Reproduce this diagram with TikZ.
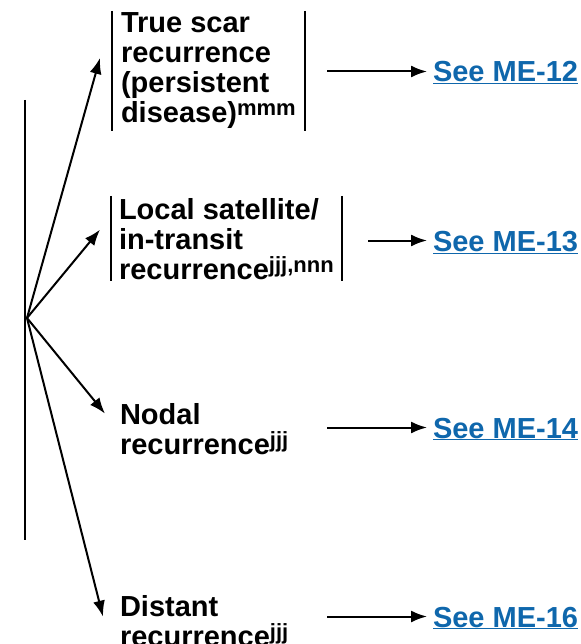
\documentclass[tikz,border=0pt]{standalone}
\usepackage{fontspec}
\setmainfont{Liberation Sans}
\usetikzlibrary{positioning, arrows.meta}
\definecolor{linkBlue}{HTML}{0F67AC}
\newcommand{\refmark}[1]{\raisebox{7pt}{\fontsize{22}{22}\selectfont #1}}
\tikzset{
  recbox/.style={align=left, anchor=north west, inner xsep=8pt, inner ysep=1pt},
  rectext/.style={align=left, anchor=north west, inner sep=0pt},
  link/.style={anchor=base west, inner sep=0pt, text=linkBlue, text height=21pt, text depth=0pt}
}

\begin{document}
\begin{tikzpicture}[x=1pt, y=-1pt, line width=2pt,
    font=\fontsize{29}{30}\selectfont\bfseries,
    >={Latex[length=16pt,width=12pt]}]
    \useasboundingbox (0,0) rectangle (580,644);
    \node[recbox] (scar) at (112,11) {True scar\\recurrence\\(persistent\\disease)\refmark{mmm}\hspace{4pt}};
    \node[recbox, inner xsep=7pt] (satellite) at (111,196) {Local satellite/\\in-transit\\recurrence\refmark{jjj,nnn}};
    \node[rectext] (nodal) at (119,402) {Nodal\\recurrence\refmark{jjj}};
    \node[rectext] (distant) at (119,594) {Distant\\recurrence\refmark{jjj}};

    \node[link] (me12) at (432,82) {\underline{See ME-12}};
    \node[link] (me13) at (432,251) {\underline{See ME-13}};
    \node[link] (me14) at (432,438) {\underline{See ME-14}};
    \node[link] (me16) at (432,627) {\underline{See ME-16}};

    % bars round the first two
    \draw (scar.north west) -- (scar.south west);
    \draw (scar.north east) -- (scar.south east);
    \draw (satellite.north west) -- (satellite.south west);
    \draw (satellite.north east) -- (satellite.south east);

    \draw (25,100) -- (25,540);
    \coordinate (fan) at (27,318);

    \draw[->] (fan) -- ([shift={(-12,-13)}]scar.west);
    \draw[->] (fan) -- ([shift={(-11,-9)}]satellite.west);
    \draw[->] (fan) -- ([shift={(-14,-15)}]nodal.west);
    \draw[->] (fan) -- ([shift={(-16,-4)}]distant.west);

    \draw[->, shorten >=5pt] (me12.west -| 327,0) -- (me12.west);
    \draw[->, shorten >=5pt] (me13.west -| 368,0) -- (me13.west);
    \draw[->, shorten >=5pt] (me14.west -| 327,0) -- (me14.west);
    \draw[->, shorten >=5pt] (me16.west -| 327,0) -- (me16.west);
\end{tikzpicture}
\end{document}
